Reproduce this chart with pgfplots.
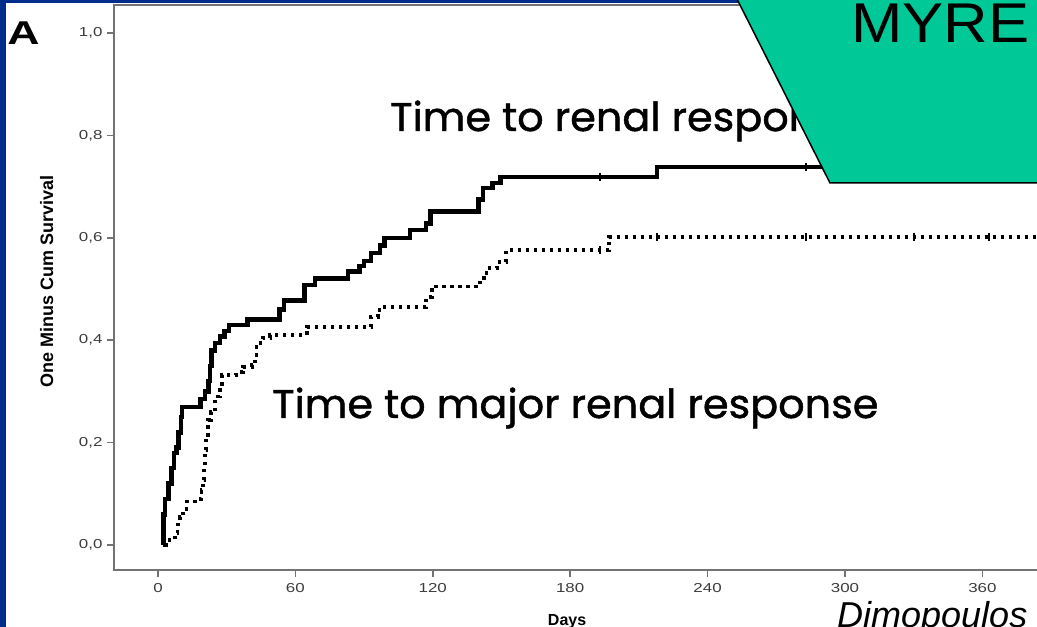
\documentclass[border=0pt]{standalone}
\usepackage{pgfplots}
\pgfplotsset{compat=1.18}
\usepackage{fontspec}
\setmainfont{Liberation Sans}
\setsansfont{Liberation Sans}
\newfontfamily\poppins[FakeBold=1.2]{Poppins}
\definecolor{slideblue}{RGB}{0,45,140}
\definecolor{tealgreen}{RGB}{0,201,151}
\definecolor{axgray}{RGB}{115,115,115}
\definecolor{tickgray}{RGB}{60,60,60}

\begin{document}
\begin{tikzpicture}[x=1pt,y=1pt]
\useasboundingbox (0,0) rectangle (1037,627);
\clip (0,0) rectangle (1037,627);
\fill[white] (0,0) rectangle (1037,627);
\begin{axis}[
  at={(114pt,57pt)}, anchor=south west,
  scale only axis, width=960pt, height=565pt,
  xmin=-19.2, xmax=400, ymin=-0.0488, ymax=1.0547,
  xtick={0,60,120,180,240,300,360},
  ytick={0,0.2,0.4,0.6,0.8,1.0},
  tick pos=left, tick align=outside,
  major tick length=7pt,
  every tick/.style={axgray, line width=1.5pt},
  axis line style={axgray, line width=1.8pt},
  /pgf/number format/assume math mode=true,
  yticklabel style={/pgf/number format/fixed, /pgf/number format/fixed zerofill,
    /pgf/number format/precision=1, /pgf/number format/use comma,
    font=\fontsize{13}{13}\selectfont, text=tickgray, xscale=1.3},
  xticklabel style={font=\fontsize{13}{13}\selectfont, text=tickgray, xscale=1.3, yshift=-3pt},
  xlabel={Days},
  ylabel={One Minus Cum Survival},
  xlabel style={at={(axis description cs:0.472,-0.0726)}, anchor=north,
    font=\fontsize{16}{16}\selectfont\bfseries},
  ylabel style={at={(axis description cs:-0.07,0.51)}, anchor=center,
    font=\fontsize{18}{18}\selectfont\bfseries},
]
\addplot[black, line width=4.5pt, const plot] coordinates {
(2,0) (2.5,0.06) (3,0.09) (4.5,0.12) (6,0.15) (7,0.18) (8,0.19) (9,0.22) (10,0.25)
(10.5,0.27) (18.5,0.285) (20.5,0.30) (22,0.32) (22.7,0.35) (23.4,0.38) (25,0.395)
(27,0.407) (29,0.418) (31,0.43) (39,0.44) (53,0.46) (55,0.478) (64,0.508) (68.5,0.521)
(83,0.534) (88,0.545) (90,0.555) (93,0.57) (97,0.585) (99,0.60) (110,0.615) (117,0.628)
(119,0.651) (140,0.675) (142,0.697) (146,0.707) (149.5,0.719) (218,0.738) (400,0.738)
};
\addplot[black, line width=3.8pt, const plot, dash pattern=on 3.5pt off 4.5pt] coordinates {
(3,0) (5,0.01) (7.4,0.023) (8.5,0.04) (9.6,0.055) (11,0.07) (12.5,0.085) (17,0.09)
(19,0.107) (19.8,0.127) (20.2,0.15) (20.5,0.186) (21,0.21) (22,0.244) (23,0.26) (25,0.29)
(27,0.31) (27.8,0.332) (34,0.338) (37,0.348) (41,0.352) (42.4,0.37) (43,0.395) (46,0.404)
(49,0.41) (65,0.426) (93,0.445) (96,0.459) (98,0.465) (117,0.485) (119.5,0.505)
(140.6,0.521) (143.5,0.541) (148,0.553) (152,0.576) (197,0.602) (400,0.602)
};
\addplot[only marks, mark=|, mark size=4pt, black, line width=1.8pt] coordinates {
(193,0.719) (283,0.738) (193,0.576) (218,0.602) (283,0.602) (330,0.602) (363,0.602)
};
\end{axis}
\node[anchor=base west, inner sep=0] at (390,496)
  {\poppins\fontsize{40}{40}\selectfont\scalebox{1.035}[1]{Time to renal response}};
\node[anchor=base west, inner sep=0] at (272,209)
  {\poppins\fontsize{40}{40}\selectfont\scalebox{1.035}[1]{Time to major renal response}};
\node[anchor=base west, inner sep=0, xscale=1.35] at (7,582)
  {\fontsize{33}{33}\selectfont\bfseries A};
\fill[slideblue] (0,0) rectangle (6,627);
\fill[slideblue] (0,624) rectangle (1037,627);
\filldraw[fill=tealgreen, draw=black, line width=1.5pt]
  (730.9,640) -- (830,444) -- (1050,444) -- (1050,640) -- cycle;
\node[anchor=base west, inner sep=0, xscale=1.1] at (851,584)
  {\fontsize{56}{56}\selectfont MYRE};
\node[anchor=base west, inner sep=0] at (837,-1)
  {\fontsize{36}{36}\selectfont\itshape Dimopoulos};
\end{tikzpicture}
\end{document}
